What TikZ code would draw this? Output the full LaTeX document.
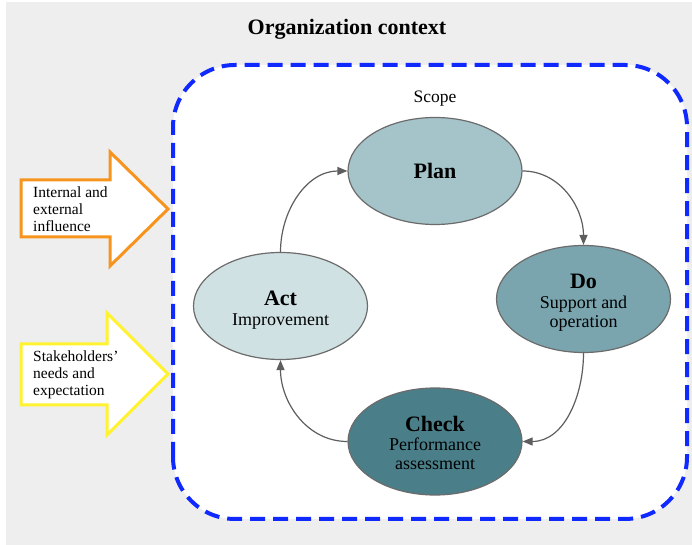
\documentclass[tikz,border=0pt]{standalone}
\usepackage{fontspec}
\setmainfont{Liberation Serif}
\usetikzlibrary{shapes.geometric,arrows.meta}
\definecolor{bggray}{HTML}{EEEEEE}
\definecolor{scopeblue}{HTML}{1029FF}
\definecolor{edgegray}{HTML}{6B6B6B}
\definecolor{arrowgray}{HTML}{5E5E5E}
\definecolor{plancol}{HTML}{A4C4C9}
\definecolor{docol}{HTML}{7AA5AE}
\definecolor{checkcol}{HTML}{4A7F8A}
\definecolor{actcol}{HTML}{D0E1E4}
\definecolor{influorange}{HTML}{F7941D}
\definecolor{stakeyellow}{HTML}{FFF231}
\newcommand\phasetitle[2][0pt]{{\bfseries\fontsize{22}{24}\selectfont\rule{0pt}{#1}#2}}
\begin{document}
\begin{tikzpicture}[x=1pt,y=1pt,
  phase/.style={ellipse, draw=edgegray, line width=1.2pt, minimum width=174pt,
    minimum height=107pt, inner sep=0pt, align=center,
    font=\fontsize{18}{18.5}\selectfont},
  cyc/.style={draw=arrowgray, line width=1.2pt, -{Triangle[length=10pt,width=8pt]}},
  blockarrow/.style={line width=3pt, fill=white, line join=miter},
  sidetext/.style={anchor=west, align=left, inner sep=0pt,
    font=\fontsize{15.5}{17}\selectfont}
]
\useasboundingbox (0,0) rectangle (692,545);
\fill[bggray] (6,0) rectangle (692,543);
\node (title) [anchor=base, font=\bfseries\fontsize{22}{26}\selectfont] at (347,510) {Organization context};
\draw[scopeblue, line width=4pt, dash pattern=on 15pt off 8pt, fill=white, rounded corners=62pt]
  (173,26) rectangle (687,480);
\node (scope) [anchor=base, font=\fontsize{17.5}{18}\selectfont] at (435,442) {Scope};

\node[phase, fill=plancol] (plan) at (435,374) {\phasetitle{Plan}};
\node[phase, fill=docol] (do) at (583.5,246) {\phasetitle[22pt]{Do}\\[1.5pt]Support and\\operation};
\node[phase, fill=checkcol] (check) at (435,103.5) {\phasetitle[18pt]{Check}\\[0.5pt]Performance\\assessment};
\node[phase, fill=actcol] (act) at (280.5,239) {\phasetitle[23pt]{Act}\\[1pt]Improvement};

\draw[cyc] (plan.east) to[out=0,in=90] (do.north);
\draw[cyc] (do.south) to[out=-90,in=0] (check.east);
\draw[cyc] (check.west) to[out=180,in=-90] (act.south);
\draw[cyc] (act.north) to[out=90,in=180] (plan.west);

\draw[blockarrow, draw=influorange] (21,308) -- (110,308) -- (110,279) -- (168,336)
  -- (110,393) -- (110,365) -- (21,365) -- cycle;
\node (infl) [sidetext] at (33,336) {Internal and\\external\\influence};

\draw[blockarrow, draw=stakeyellow] (21,140) -- (107,140) -- (107,110) -- (168,171)
  -- (107,232) -- (107,201) -- (21,201) -- cycle;
\node (stake) [sidetext] at (33,170) {Stakeholders’\\needs and\\expectation};
\end{tikzpicture}
\end{document}
